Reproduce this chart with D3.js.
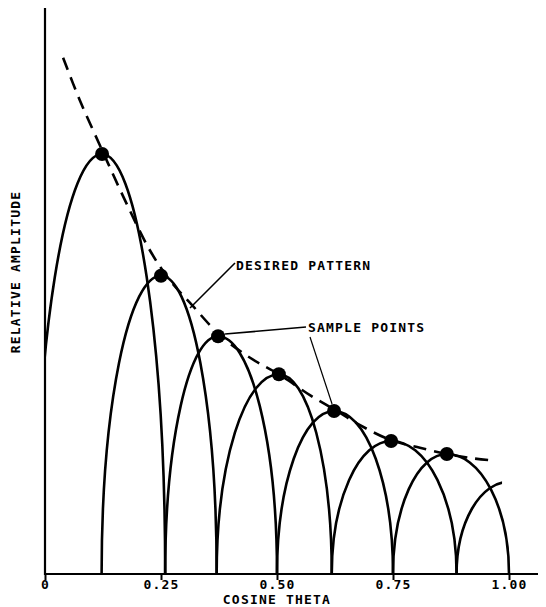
<!DOCTYPE html>
<html>
<head>
<meta charset="utf-8">
<script src="https://cdn.jsdelivr.net/npm/d3@7"></script>
<style>
  body { margin: 0; background: #fff; }
  text { font-family: "DejaVu Sans Mono", monospace; font-weight: bold; font-size: 13px; letter-spacing: 1.2px; fill: #000; }
</style>
</head>
<body>
<div id="chart"></div>
<script>
// Sample points (cosine theta, relative amplitude)
const sampleCos = [0.123, 0.25, 0.373, 0.504, 0.623, 0.746, 0.866];
const sampleAmp = [0.742, 0.527, 0.420, 0.353, 0.288, 0.235, 0.212];

// Lobes: left null, peak, right null, visible extent
const lobeLeft = [-0.021, 0.122, 0.259, 0.37, 0.5, 0.618, 0.75, 0.887];
const lobePeak = [0.123, 0.25, 0.373, 0.504, 0.623, 0.746, 0.866, 1.0];
const lobeAmp = [0.742, 0.527, 0.420, 0.353, 0.288, 0.235, 0.212, 0.163];
const lobeRight = [0.259, 0.37, 0.5, 0.618, 0.75, 0.887, 1.0, 1.113];
const lobeFrom = [0, 0.122, 0.259, 0.37, 0.5, 0.618, 0.75, 0.887];
const lobeTo = [0.259, 0.37, 0.5, 0.618, 0.75, 0.887, 1.0, 0.985];

// Desired pattern (dashed)
const patternCos = [0.039, 0.075, 0.123, 0.172, 0.226, 0.269, 0.317, 0.377, 0.442, 0.506,
  0.571, 0.625, 0.679, 0.744, 0.808, 0.866, 0.916, 0.959];
const patternAmp = [0.912, 0.837, 0.749, 0.661, 0.572, 0.519, 0.475, 0.422, 0.382, 0.352,
  0.316, 0.290, 0.263, 0.237, 0.223, 0.212, 0.205, 0.201];

// Ticks
const xTicks = [0, 0.25, 0.5, 0.75, 1.0];
const xTickLabels = ['0', '0.25', '0.50', '0.75', '1.00'];

// Dimensions
const width = 546;
const height = 607;
const plotLeft = 45;
const plotRight = 509;
const plotBottom = 574;
const plotTop = 8;

// Scales
const x = d3.scaleLinear().domain([0, 1]).range([plotLeft, plotRight]);
const y = d3.scaleLinear().domain([0, 1]).range([plotBottom, plotTop]);

const svg = d3.select('#chart')
  .append('svg')
    .attr('width', width)
    .attr('height', height);

// Lobes
const lobes = lobePeak.map((p, i) => ({
  l: lobeLeft[i], p, r: lobeRight[i], a: lobeAmp[i], from: lobeFrom[i], to: lobeTo[i]
}));
const defs = svg.append('defs');
lobes.forEach((d, i) => {
  const x0 = i === 0 ? x(d.from) : x(d.from) - 3;
  const x1 = i === lobes.length - 1 ? x(d.to) : x(d.to) + 3;
  defs.append('clipPath')
    .attr('id', `lobe-clip-${i}`)
    .append('rect')
      .attr('x', x0)
      .attr('y', 0)
      .attr('width', x1 - x0)
      .attr('height', plotBottom + 2);
});
const lobePath = (d) => {
  const ry = y(0) - y(d.a);
  return `M${x(d.l)},${y(0)}`
    + ` A${x(d.p) - x(d.l)},${ry} 0 0 1 ${x(d.p)},${y(d.a)}`
    + ` A${x(d.r) - x(d.p)},${ry} 0 0 1 ${x(d.r)},${y(0)}`;
};
svg.append('g')
  .selectAll('path')
  .data(lobes)
  .join('path')
    .attr('d', lobePath)
    .attr('clip-path', (d, i) => `url(#lobe-clip-${i})`)
    .attr('fill', 'none')
    .attr('stroke', '#000')
    .attr('stroke-width', 2.6);

// Desired pattern
const pattern = patternCos.map((c, i) => [c, patternAmp[i]]);
svg.append('path')
  .datum(pattern)
  .attr('d', d3.line().x(d => x(d[0])).y(d => y(d[1])).curve(d3.curveCatmullRom))
  .attr('fill', 'none')
  .attr('stroke', '#000')
  .attr('stroke-width', 2.6)
  .attr('stroke-dasharray', '13,8');

// Sample points
svg.append('g')
  .selectAll('circle')
  .data(sampleCos)
  .join('circle')
    .attr('cx', d => x(d))
    .attr('cy', (d, i) => y(sampleAmp[i]))
    .attr('r', 7)
    .attr('fill', '#000');

// Axes
const axis = d3.axisBottom(x)
  .tickValues(xTicks)
  .tickFormat((d, i) => xTickLabels[i])
  .tickSize(6)
  .tickPadding(0);
svg.append('g')
  .attr('transform', `translate(0, ${plotBottom})`)
  .call(axis)
  .call(g => g.select('.domain').remove())
  .call(g => g.selectAll('.tick line').attr('stroke', '#000').attr('stroke-width', 2))
  .call(g => g.selectAll('.tick text').attr('font-family', null).attr('font-size', null).attr('fill', null));
svg.append('line')
  .attr('x1', plotLeft).attr('x2', 538)
  .attr('y1', plotBottom).attr('y2', plotBottom)
  .attr('stroke', '#000')
  .attr('stroke-width', 2.2);
svg.append('line')
  .attr('x1', plotLeft).attr('x2', plotLeft)
  .attr('y1', plotTop).attr('y2', plotBottom + 1)
  .attr('stroke', '#000')
  .attr('stroke-width', 2.2);

// Axis titles
svg.append('text')
  .attr('x', (plotLeft + plotRight) / 2)
  .attr('y', 603.5)
  .attr('text-anchor', 'middle')
  .text('COSINE THETA');
svg.append('text')
  .attr('transform', 'translate(20, 272) rotate(-90)')
  .attr('text-anchor', 'middle')
  .text('RELATIVE AMPLITUDE');

// Annotations
const notes = svg.append('g');
notes.append('line')
  .attr('x1', 190).attr('y1', 308).attr('x2', 235).attr('y2', 263)
  .attr('stroke', '#000').attr('stroke-width', 1.6);
notes.append('text').attr('x', 236).attr('y', 270).text('DESIRED PATTERN');
notes.append('line')
  .attr('x1', x(sampleCos[2]) + 7).attr('y1', 334).attr('x2', 306).attr('y2', 327)
  .attr('stroke', '#000').attr('stroke-width', 1.6);
notes.append('line')
  .attr('x1', 310).attr('y1', 337).attr('x2', x(sampleCos[4]) - 2).attr('y2', y(sampleAmp[4]) - 7)
  .attr('stroke', '#000').attr('stroke-width', 1.2);
notes.append('text').attr('x', 308).attr('y', 332).text('SAMPLE POINTS');
</script>
</body>
</html>
